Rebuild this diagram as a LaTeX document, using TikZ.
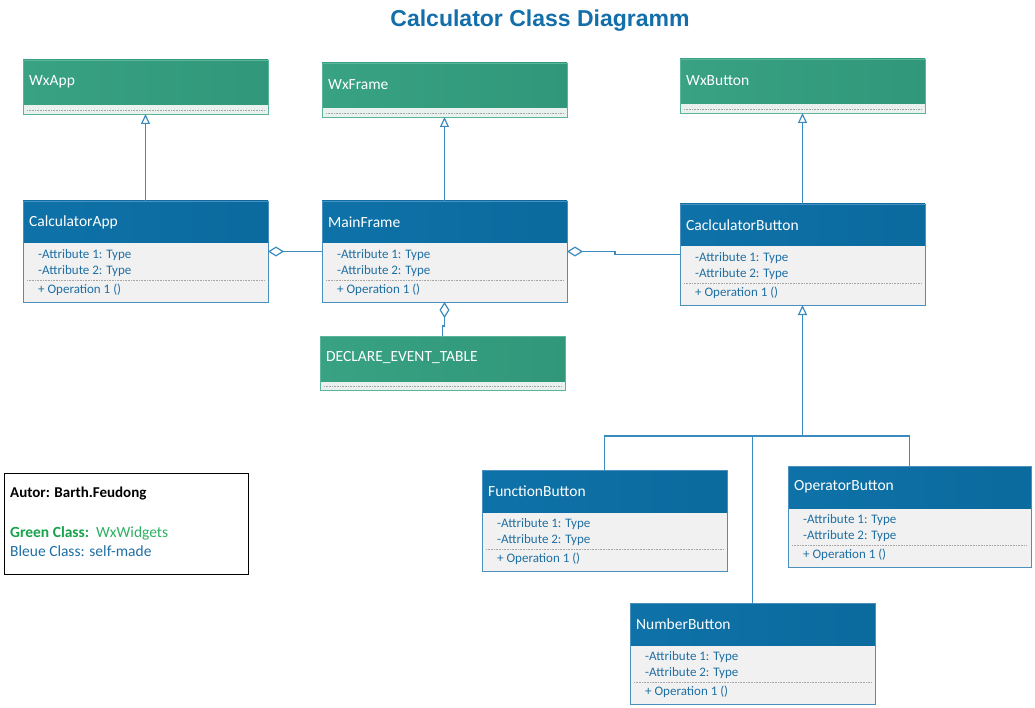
\documentclass[tikz,border=0pt]{standalone}
\usepackage{fontspec}
\usepackage{graphicx}
\setmainfont{Carlito}
\newfontfamily\titlefont{Liberation Sans}
\usetikzlibrary{arrows.meta,calc}
\definecolor{hbL}{HTML}{0E72A8}
\definecolor{hbM}{HTML}{1786BF}
\definecolor{hbR}{HTML}{0B6A9E}
\definecolor{hgL}{HTML}{38A282}
\definecolor{hgM}{HTML}{46B793}
\definecolor{hgR}{HTML}{31977A}
\definecolor{bordblue}{HTML}{4A8FBE}
\definecolor{bordgreen}{HTML}{5BB59A}
\definecolor{bodygray}{HTML}{F1F1F1}
\definecolor{bodygreen}{HTML}{E8F1EE}
\definecolor{linec}{HTML}{3A8CBE}
\definecolor{txtblue}{HTML}{1F6FA3}
\definecolor{titleblue}{HTML}{136FAA}
\definecolor{leggreen}{HTML}{17A24C}
\definecolor{leggreen2}{HTML}{2DB062}
\tikzset{
  conn/.style={draw=linec, line width=1.2pt},
  inh/.style={conn, -{Triangle[open,length=10pt,width=9pt]}},
  agg/.style={conn, -{Diamond[open,length=16pt,width=10pt]}},
  classbox/.style={line width=0.8pt, anchor=north west, inner sep=0pt, outer sep=0pt},
  htext/.style={anchor=west, text=white, font=\fontsize{15.5}{17}\selectfont, inner sep=0pt},
  atext/.style={anchor=west, text=txtblue, font=\fontsize{13}{15}\selectfont, inner sep=0pt},
  ltext/.style={anchor=west, font=\fontsize{15.5}{17}\selectfont, inner sep=0pt},
}
\newcommand\bclass[5]{% name, x, y, width, title
  \node[classbox, draw=bordblue, fill=bodygray, minimum width=#4pt, minimum height=101pt] (#1) at (#2,#3) {};
  \shade[left color=hbL, middle color=hbM, right color=hbR] (#1.north west) rectangle ($(#1.north east)+(0,42)$);
  \draw[bordblue, line width=0.8pt] (#1.north west) rectangle (#1.south east);
  \node[htext] (#1-t) at ($(#1.north west)+(6,21)$) {#5};
  \node[atext] (#1-a1) at ($(#1.north west)+(15,54)$) {-Attribute 1: Type};
  \node[atext] (#1-a2) at ($(#1.north west)+(15,70)$) {-Attribute 2: Type};
  \draw[gray!70, densely dotted, line width=0.6pt] ($(#1.north west)+(4,79)$) -- ($(#1.north east)+(-4,79)$);
  \node[atext] (#1-o) at ($(#1.north west)+(15,89)$) {+ Operation 1 ()};
}
\newcommand\gclass[5]{% name, x, y, width, title
  \node[classbox, draw=bordgreen, fill=bodygreen, minimum width=#4pt, minimum height=54pt] (#1) at (#2,#3) {};
  \shade[left color=hgL, middle color=hgM, right color=hgR] (#1.north west) rectangle ($(#1.north east)+(0,45)$);
  \draw[bordgreen, line width=0.8pt] (#1.north west) rectangle (#1.south east);
  \node[htext] (#1-t) at ($(#1.north west)+(6,22)$) {#5};
  \draw[gray!70, densely dotted, line width=0.6pt] ($(#1.north west)+(4,50)$) -- ($(#1.north east)+(-4,50)$);
}
\begin{document}
\begin{tikzpicture}[x=1pt,y=-1pt]
\useasboundingbox[fill=white] (0,0) rectangle (1035,708);
\node[inner sep=0pt] (title) at (540,21) {\titlefont\bfseries\fontsize{23}{25}\selectfont\color{titleblue}Calculator Class Diagramm};

\gclass{wxapp}{23}{60}{245}{WxApp}
\gclass{wxframe}{322}{63}{245}{WxFrame}
\gclass{wxbutton}{680}{59}{245}{WxButton}
\gclass{det}{320}{336}{245}{DECLARE\_EVENT\_TABLE}

\bclass{capp}{23}{201}{245}{CalculatorApp}
\bclass{mf}{322}{201}{245}{MainFrame}
\bclass{cb}{680}{204}{245}{CaclculatorButton}
\bclass{fb}{482}{470}{245}{FunctionButton}
\bclass{ob}{788}{466}{243}{OperatorButton}
\bclass{nb}{630}{603}{245}{NumberButton}

% legend
\node[draw=black, line width=0.8pt, minimum width=244pt, minimum height=101pt, anchor=north west, inner sep=0pt] (legend) at (4,473) {};
\node[ltext, font=\fontsize{15}{17}\selectfont\bfseries] (leg1) at (10,494) {Autor: Barth.Feudong};
\node[ltext] (leg2) at (10,533) {\textcolor{leggreen}{\bfseries Green Class:}\ \ \textcolor{leggreen2}{WxWidgets}};
\node[ltext, text=txtblue] (leg3) at (10,551) {Bleue Class: self-made};

% inheritance
\draw[inh] (capp.north) -- (wxapp.south);
\draw[inh] (mf.north) -- (wxframe.south);
\draw[inh] (cb.north) -- (wxbutton.south);

% aggregation
\draw[agg] (capp.east -| mf.west) -- (capp.east);
\draw[agg] (cb.west) -- ++(-65,0) |- (mf.east);
\draw[agg] (det.north) -- ++(0,-10) -| (mf.south);

% inheritance tree
\coordinate (j) at ($(cb.south)+(0,131)$);
\draw[conn] (fb.north) |- (j) -| (ob.north);
\draw[conn] (nb.north) -- (nb.north |- j);
\draw[inh] (j) -- (cb.south);
\end{tikzpicture}
\end{document}
